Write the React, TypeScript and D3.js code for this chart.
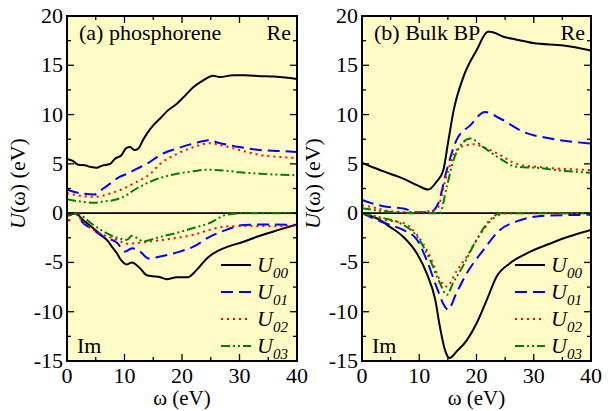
import React from "react";
import * as d3 from "d3";

// ---------- data (omega in eV, U in eV) ----------
const xTicks = [0, 10, 20, 30, 40];
const yTicks = [-15, -10, -5, 0, 5, 10, 15, 20];
const seriesNames = ["00", "01", "02", "03"];
const seriesColors = ["#000000", "#0000ff", "#ff0000", "#008000"];

// (a) phosphorene
const phosRe00: [number, number][] = [[0, 5.5], [1, 5.3], [2, 4.9], [3.1, 4.85], [4, 4.7], [5.2, 4.6], [6, 4.8], [7.5, 5.0], [8.3, 5.5], [9.5, 5.9], [10.3, 6.6], [11, 6.7], [11.7, 6.4], [12.4, 6.55], [13.2, 7.4], [13.9, 8.07], [15, 8.9], [16.2, 9.6], [17.5, 10.4], [19.1, 11.1], [20.5, 11.9], [22, 12.8], [23.5, 13.4], [25.4, 13.95], [26.6, 13.8], [28.9, 14.0], [31, 14.0], [33.6, 13.9], [36, 13.85], [38, 13.75], [40, 13.6]];
const phosRe01: [number, number][] = [[0, 2.4], [1, 2.2], [2.5, 2.0], [4.8, 1.9], [6.3, 2.5], [7.5, 3.0], [9.2, 3.7], [10.5, 4.0], [12.1, 4.5], [13.9, 5.0], [16.2, 5.9], [19.1, 6.55], [22, 7.06], [24.8, 7.4], [26, 7.2], [27.7, 6.96], [30, 6.7], [33.6, 6.4], [37, 6.3], [40, 6.2]];
const phosRe02: [number, number][] = [[0, 2.0], [1, 1.9], [2.5, 1.75], [4.8, 1.65], [7.5, 1.99], [9.2, 2.33], [12.1, 3.17], [14.5, 4.0], [16.2, 5.0], [19.1, 6.0], [22, 6.7], [24.8, 7.1], [26, 7.0], [27.7, 6.76], [30, 6.4], [33.6, 5.9], [37, 5.7], [40, 5.6]];
const phosRe03: [number, number][] = [[0, 1.4], [2, 1.2], [4.8, 1.05], [6.5, 1.2], [8, 1.3], [9.8, 1.65], [12.1, 2.5], [15.1, 3.34], [19.1, 4.0], [22, 4.25], [24.3, 4.4], [27.7, 4.3], [30, 4.15], [33.6, 4.0], [37, 3.9], [40, 3.85]];
const phosIm00: [number, number][] = [[0, -0.2], [0.8, -0.1], [1.4, 0], [2.8, -0.7], [4.6, -1.55], [6.3, -2.4], [7.2, -2.9], [7.8, -3.4], [8.6, -4.0], [9.2, -4.6], [10.4, -5.2], [11.3, -5.0], [12.7, -5.6], [13.9, -6.3], [15, -6.4], [16.2, -6.5], [17.3, -6.7], [19.1, -6.5], [21.1, -6.5], [22, -6.1], [23.1, -5.4], [24.5, -4.5], [26, -3.9], [28, -3.4], [30.7, -2.9], [33, -2.4], [35.9, -1.86], [40, -1.15]];
const phosIm01: [number, number][] = [[0, -0.3], [0.5, -0.2], [1.4, 0], [2.8, -1.0], [4.6, -1.7], [6.3, -2.4], [8.7, -3.0], [10.1, -3.9], [11.3, -3.55], [12.7, -3.9], [14.2, -4.6], [16.2, -4.4], [19.6, -3.9], [22, -3.4], [24.8, -2.4], [27.7, -1.7], [30.7, -1.2], [35, -1.15], [40, -1.2]];
const phosIm02: [number, number][] = [[0, 0], [0.3, -1.0], [0.6, -0.2], [1.4, 0], [2.8, -0.9], [4.6, -1.7], [6.3, -2.2], [8.7, -2.7], [10.4, -3.1], [12.7, -3.0], [14.8, -2.85], [19.1, -2.5], [22, -2.2], [24.8, -1.7], [27.7, -1.35], [32, -1.3], [40, -1.3]];
const phosIm03: [number, number][] = [[0, -0.25], [1.4, 0], [4.6, -1.2], [6.3, -1.85], [8.7, -2.5], [10.4, -2.7], [11.3, -2.3], [13.3, -2.85], [16.2, -2.4], [19.1, -2.0], [22, -1.5], [24.8, -1.0], [27.7, -0.17], [30.7, 0], [40, 0]];

// (b) bulk black phosphorus
const bulkRe00: [number, number][] = [[0, 5.1], [2.6, 4.5], [4.9, 4.0], [7.2, 3.5], [9.6, 2.84], [11.6, 2.4], [13.0, 3.17], [14.2, 4.36], [15.1, 7.4], [16.0, 10.4], [17.7, 13.8], [20.0, 16.5], [22.0, 18.4], [22.4, 18.4], [24.7, 17.9], [27.0, 17.6], [29.9, 17.25], [35.2, 17.0], [40, 16.5]];
const bulkRe01: [number, number][] = [[0, 1.35], [3.7, 0.7], [7.2, 0.47], [9.6, 0.1], [11.9, 0.1], [13.3, 0.98], [14.8, 4.36], [16.5, 7.4], [18.9, 8.9], [21.5, 10.26], [24.1, 9.6], [28.2, 8.24], [32.9, 7.57], [40, 7.06]];
const bulkRe02: [number, number][] = [[0, 0.8], [2.6, 0.5], [4.9, 0.2], [9.6, 0.1], [13.0, 0.37], [14.8, 3.85], [16.5, 6.4], [18.3, 6.9], [19.5, 7.0], [21.2, 6.7], [24.1, 5.9], [27.0, 5.0], [30.5, 4.7], [35, 4.5], [40, 4.36]];
const bulkRe03: [number, number][] = [[0, 0.5], [3.7, 0.2], [9.6, 0], [13.6, 0], [14.8, 2.67], [16.0, 5.4], [17.7, 7.2], [18.9, 7.57], [21.2, 6.7], [24.1, 5.54], [27.0, 4.7], [30.5, 4.6], [35, 4.3], [40, 4.1]];
const bulkIm00: [number, number][] = [[0, 0], [2.6, -0.54], [4.9, -1.4], [7.2, -2.4], [9.6, -4.1], [11.3, -6.1], [12.8, -8.8], [13.6, -11.5], [14.5, -13.9], [15.3, -14.7], [16.5, -14.05], [18.3, -12.9], [20.0, -11.2], [21.8, -8.8], [23.5, -6.45], [25.8, -5.1], [28.7, -4.1], [32.8, -3.1], [36, -2.4], [40, -1.7]];
const bulkIm01: [number, number][] = [[0, 0], [2.6, -0.68], [4.9, -1.2], [7.2, -1.7], [9.6, -2.7], [11.3, -4.76], [13.0, -7.45], [14.5, -9.5], [15.0, -9.8], [16.5, -8.1], [18.3, -6.1], [21.2, -3.75], [24.1, -1.7], [27.0, -0.84], [32, -0.27], [40, -0.17]];
const bulkIm02: [number, number][] = [[0, 0], [3.7, -0.68], [7.2, -1.0], [9.6, -2.2], [11.9, -4.4], [13.6, -6.75], [14.8, -7.45], [16.5, -5.9], [18.3, -4.4], [21.2, -1.7], [23.0, -0.5], [25.5, 0], [40, 0]];
const bulkIm03: [number, number][] = [[0, 0], [3.7, -0.5], [6.6, -1.0], [9.6, -2.36], [11.9, -4.76], [13.6, -7.1], [14.8, -8.3], [15.9, -7.1], [17.7, -5.3], [20.0, -2.7], [22.4, -0.68], [24.1, 0], [40, 0]];

const phosSeries = [phosRe00, phosRe01, phosRe02, phosRe03, phosIm00, phosIm01, phosIm02, phosIm03];
const bulkSeries = [bulkRe00, bulkRe01, bulkRe02, bulkRe03, bulkIm00, bulkIm01, bulkIm02, bulkIm03];

// ---------- styles ----------
const dashes = [null, "12 6", "2 4", "9 3 2 3 2 3"];
const FONT = "Liberation Serif";
const TOP = 16;
const BOTTOM = 361;

type PanelProps = { x0: number; x1: number; title: string; series: [number, number][][]; clipId: string };

function T(props: { x?: number; y?: number; size: number; italic?: boolean; anchor?: string; transform?: string; children: React.ReactNode }) {
  const { x, y, size, italic, anchor, transform, children } = props;
  return (
    <text
      x={x}
      y={y}
      transform={transform}
      textAnchor={anchor || "start"}
      style={{ fontFamily: FONT, fontSize: size, fontStyle: italic ? "italic" : "normal" }}
    >
      {children}
    </text>
  );
}

function Panel({ x0, x1, title, series, clipId }: PanelProps) {
  const x = d3.scaleLinear().domain([0, 40]).range([x0, x1]);
  const y = d3.scaleLinear().domain([-15, 20]).range([BOTTOM, TOP]);
  const line = d3.line<[number, number]>().x((d) => x(d[0])).y((d) => y(d[1])).curve(d3.curveMonotoneX);
  const xMinor = d3.range(5, 40, 10);
  const yMinor = d3.range(-12.5, 20, 5);
  const w = x1 - x0;
  const legendX = x1 - 76;
  const legendY = [265, 292, 319, 346];
  return (
    <g>
      <rect x={x0} y={TOP} width={w} height={BOTTOM - TOP} fill="#fffbc6" />
      <line x1={x0} x2={x1} y1={y(0)} y2={y(0)} stroke="#000" strokeWidth={1.6} />
      <svg x={x0} y={TOP} width={w} height={BOTTOM - TOP} overflow="hidden" viewBox={`${x0} ${TOP} ${w} ${BOTTOM - TOP}`}>
        {series.map((s, i) => (
          <path
            key={i}
            d={line(s) || ""}
            fill="none"
            stroke={seriesColors[i % 4]}
            strokeWidth={2}
            strokeDasharray={dashes[i % 4] || undefined}
          />
        ))}
      </svg>
      {xTicks.map((t) => (
        <g key={"xt" + t}>
          <line x1={x(t)} x2={x(t)} y1={BOTTOM} y2={BOTTOM - 7} stroke="#000" strokeWidth={1.3} />
          <line x1={x(t)} x2={x(t)} y1={TOP} y2={TOP + 7} stroke="#000" strokeWidth={1.3} />
          <T x={x(t)} y={383} anchor="middle" size={22}>{String(t)}</T>
        </g>
      ))}
      {xMinor.map((t) => (
        <g key={"xm" + t}>
          <line x1={x(t)} x2={x(t)} y1={BOTTOM} y2={BOTTOM - 4} stroke="#000" strokeWidth={1.3} />
          <line x1={x(t)} x2={x(t)} y1={TOP} y2={TOP + 4} stroke="#000" strokeWidth={1.3} />
        </g>
      ))}
      {yTicks.map((t) => (
        <g key={"yt" + t}>
          <line x1={x0} x2={x0 + 7} y1={y(t)} y2={y(t)} stroke="#000" strokeWidth={1.3} />
          <line x1={x1} x2={x1 - 7} y1={y(t)} y2={y(t)} stroke="#000" strokeWidth={1.3} />
          <T x={x0 - 4} y={y(t) + 7} anchor="end" size={22}>{String(t)}</T>
        </g>
      ))}
      {yMinor.map((t) => (
        <g key={"ym" + t}>
          <line x1={x0} x2={x0 + 4} y1={y(t)} y2={y(t)} stroke="#000" strokeWidth={1.3} />
          <line x1={x1} x2={x1 - 4} y1={y(t)} y2={y(t)} stroke="#000" strokeWidth={1.3} />
        </g>
      ))}
      <rect x={x0} y={TOP} width={w} height={BOTTOM - TOP} fill="none" stroke="#000" strokeWidth={2} />
      <T x={x0 + 12} y={40} size={22}>{title}</T>
      <T x={x1 - 6} y={40} anchor="end" size={22}>Re</T>
      <T x={x0 + 10} y={353} size={22}>Im</T>
      {seriesNames.map((n, i) => (
        <g key={"lg" + n}>
          <line x1={legendX} x2={legendX + 30} y1={legendY[i]} y2={legendY[i]} stroke={seriesColors[i]} strokeWidth={2} strokeDasharray={dashes[i] || undefined} />
          <T x={legendX + 36} y={legendY[i] + 7} size={22} italic>
            U<tspan dy={6} style={{ fontSize: 15 }}>{n}</tspan>
          </T>
        </g>
      ))}
      <T x={(x0 + x1) / 2} y={405} anchor="middle" size={21}>ω (eV)</T>
      <T transform={`translate(${x0 - 42},${(TOP + BOTTOM) / 2 - 5}) rotate(-90)`} anchor="middle" size={22}>
        <tspan style={{ fontStyle: "italic" }}>U</tspan>(ω) (eV)
      </T>
    </g>
  );
}

export default function App() {
  return (
    <svg width={613} height={411} style={{ position: "absolute", left: 0, top: 0, background: "#fff" }}>
      <Panel x0={67} x1={297} title="(a) phosphorene" series={phosSeries} clipId="clipA" />
      <Panel x0={362} x1={591} title="(b) Bulk BP" series={bulkSeries} clipId="clipB" />
    </svg>
  );
}
